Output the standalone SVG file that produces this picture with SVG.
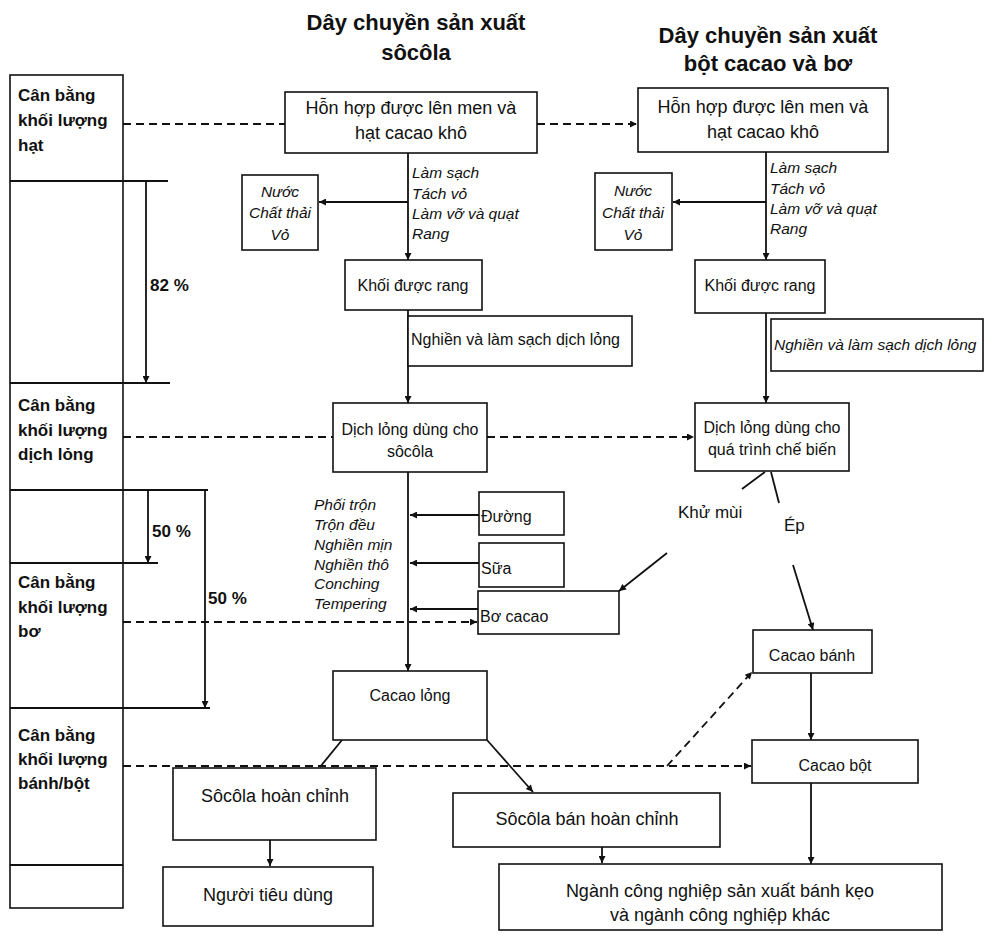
<svg xmlns="http://www.w3.org/2000/svg" width="991" height="936" viewBox="0 0 991 936">
<defs>
<marker id="ah" viewBox="0 0 10 10" refX="10" refY="5" markerWidth="9" markerHeight="7" markerUnits="userSpaceOnUse" orient="auto"><path d="M0,0 L10,5 L0,10 z" fill="#111"/></marker>
<style>
text{font-family:"Liberation Sans",Arial,sans-serif;fill:#111}
.t{font-size:22px;font-weight:bold;text-anchor:middle}
.lb{font-size:17px;font-weight:bold}
.n{font-size:16px;text-anchor:middle}
.nb{font-size:18px;text-anchor:middle}
.nl{font-size:16px}
.i{font-size:15.5px;font-style:italic}
.ic{font-size:15.5px;font-style:italic;text-anchor:middle}
.box{fill:#fff;stroke:#111;stroke-width:1.6}
.ln{fill:none;stroke:#111;stroke-width:1.8}
.ar{fill:none;stroke:#111;stroke-width:1.8;marker-end:url(#ah)}
.da{fill:none;stroke:#111;stroke-width:1.8;stroke-dasharray:8 5}
.dar{fill:none;stroke:#111;stroke-width:1.8;stroke-dasharray:8 5;marker-end:url(#ah)}
</style>
</defs>
<rect width="991" height="936" fill="#fff"/>

<g id="titles">
<text class="t" x="416" y="30">Dây chuyền sản xuất</text>
<text class="t" x="416" y="60">sôcôla</text>
<text class="t" x="768" y="43">Dây chuyền sản xuất</text>
<text class="t" x="768" y="71">bột cacao và bơ</text>
</g>

<g id="balance-column">
<rect x="10" y="75" width="113" height="833" fill="none" stroke="#111" stroke-width="1.6"/>
<line class="ln" x1="10" y1="181" x2="168" y2="181"/>
<line class="ln" x1="10" y1="383" x2="170" y2="383"/>
<line class="ln" x1="10" y1="490" x2="208" y2="490"/>
<line class="ln" x1="10" y1="563" x2="158" y2="563"/>
<line class="ln" x1="10" y1="708" x2="210" y2="708"/>
<line class="ln" x1="10" y1="865" x2="123" y2="865"/>
<line class="ar" x1="146" y1="181" x2="146" y2="383"/>
<line class="ar" x1="148" y1="490" x2="148" y2="563"/>
<line class="ar" x1="205" y1="490" x2="205" y2="708"/>
<text class="lb" x="150" y="291">82 %</text>
<text class="lb" x="152" y="537">50 %</text>
<text class="lb" x="208" y="604">50 %</text>
<text class="lb" x="18" y="101">Cân bằng</text>
<text class="lb" x="18" y="126">khối lượng</text>
<text class="lb" x="18" y="151">hạt</text>
<text class="lb" x="18" y="411">Cân bằng</text>
<text class="lb" x="18" y="436">khối lượng</text>
<text class="lb" x="18" y="460">dịch lỏng</text>
<text class="lb" x="18" y="588">Cân bằng</text>
<text class="lb" x="18" y="613">khối lượng</text>
<text class="lb" x="18" y="637">bơ</text>
<text class="lb" x="18" y="741">Cân bằng</text>
<text class="lb" x="18" y="765">khối lượng</text>
<text class="lb" x="18" y="789">bánh/bột</text>
</g>

<g id="connectors">
<line class="da" x1="123" y1="124" x2="285" y2="124"/>
<line class="dar" x1="537" y1="124" x2="637" y2="124"/>
<line class="da" x1="123" y1="437" x2="333" y2="437"/>
<line class="dar" x1="487" y1="437" x2="694" y2="437"/>
<line class="dar" x1="123" y1="622" x2="477" y2="622"/>
<line class="dar" x1="123" y1="766" x2="751" y2="766"/>
<line class="dar" x1="667" y1="766" x2="752" y2="672"/>
<line class="ar" x1="408" y1="153" x2="408" y2="260"/>
<line class="ar" x1="408" y1="202" x2="319" y2="202"/>
<line class="ar" x1="408" y1="310" x2="408" y2="403"/>
<line class="ar" x1="408" y1="472" x2="408" y2="671"/>
<line class="ar" x1="479" y1="515" x2="410" y2="515"/>
<line class="ar" x1="479" y1="563" x2="410" y2="563"/>
<line class="ar" x1="478" y1="609" x2="410" y2="609"/>
<line class="ln" x1="342" y1="740" x2="320" y2="767"/>
<line class="ar" x1="487" y1="740" x2="533" y2="792"/>
<line class="ar" x1="270" y1="840" x2="270" y2="866"/>
<line class="ar" x1="602" y1="847" x2="602" y2="863"/>
<line class="ar" x1="766" y1="152" x2="766" y2="260"/>
<line class="ar" x1="766" y1="202" x2="673" y2="202"/>
<line class="ar" x1="766" y1="313" x2="766" y2="403"/>
<line class="ln" x1="765" y1="472" x2="742" y2="489"/>
<line class="ar" x1="667" y1="553" x2="619" y2="591"/>
<line class="ln" x1="771" y1="472" x2="779" y2="503"/>
<line class="ar" x1="793" y1="565" x2="813" y2="630"/>
<line class="ar" x1="811" y1="673" x2="811" y2="740"/>
<line class="ar" x1="811" y1="783" x2="811" y2="864"/>
</g>

<g id="n-mix-left"><rect class="box" x="285" y="92" width="252" height="61"/>
<text class="nb" x="411" y="114">Hỗn hợp được lên men và</text>
<text class="nb" x="411" y="139">hạt cacao khô</text></g>
<g id="n-mix-right"><rect class="box" x="638" y="88" width="250" height="64"/>
<text class="nb" x="763" y="113">Hỗn hợp được lên men và</text>
<text class="nb" x="763" y="138">hạt cacao khô</text></g>

<g id="lbl-steps-left">
<text class="i" x="412" y="178">Làm sạch</text>
<text class="i" x="412" y="199">Tách vỏ</text>
<text class="i" x="412" y="219">Làm vỡ và quạt</text>
<text class="i" x="412" y="239">Rang</text></g>
<g id="lbl-steps-right">
<text class="i" x="770" y="173">Làm sạch</text>
<text class="i" x="770" y="194">Tách vỏ</text>
<text class="i" x="770" y="214">Làm vỡ và quạt</text>
<text class="i" x="770" y="234">Rang</text></g>

<g id="n-waste-left"><rect class="box" x="242" y="175" width="76" height="75"/>
<text class="ic" x="280" y="197">Nước</text>
<text class="ic" x="280" y="218">Chất thải</text>
<text class="ic" x="280" y="240">Vỏ</text></g>
<g id="n-waste-right"><rect class="box" x="595" y="173" width="77" height="77"/>
<text class="ic" x="633" y="196">Nước</text>
<text class="ic" x="633" y="218">Chất thải</text>
<text class="ic" x="633" y="240">Vỏ</text></g>

<g id="n-roast-left"><rect class="box" x="345" y="260" width="137" height="50"/>
<text class="n" x="413" y="291">Khối được rang</text></g>
<g id="n-roast-right"><rect class="box" x="695" y="260" width="130" height="53"/>
<text class="n" x="760" y="291">Khối được rang</text></g>

<g id="n-grind-left"><rect class="box" x="408" y="316" width="224" height="50"/>
<text class="nl" x="411" y="345">Nghiền và làm sạch dịch lỏng</text></g>
<g id="n-grind-right"><rect class="box" x="771" y="319" width="212" height="52"/>
<text class="i" x="774" y="350" style="font-size:15.5px">Nghiền và làm sạch dịch lỏng</text></g>

<g id="n-liquor-left"><rect class="box" x="333" y="403" width="154" height="69"/>
<text class="n" x="410" y="435">Dịch lỏng dùng cho</text>
<text class="n" x="410" y="457">sôcôla</text></g>
<g id="n-liquor-right"><rect class="box" x="695" y="403" width="154" height="68"/>
<text class="n" x="772" y="433">Dịch lỏng dùng cho</text>
<text class="n" x="772" y="455">quá trình chế biến</text></g>

<g id="lbl-process">
<text class="i" x="314" y="510">Phối trộn</text>
<text class="i" x="314" y="530">Trộn đều</text>
<text class="i" x="314" y="550">Nghiền mịn</text>
<text class="i" x="314" y="570">Nghiền thô</text>
<text class="i" x="314" y="589">Conching</text>
<text class="i" x="314" y="609">Tempering</text></g>

<g id="n-sugar"><rect class="box" x="479" y="492" width="85" height="43"/>
<text class="nl" x="481" y="522">Đường</text></g>
<g id="n-milk"><rect class="box" x="479" y="543" width="85" height="44"/>
<text class="nl" x="481" y="574">Sữa</text></g>
<g id="n-butter"><rect class="box" x="478" y="591" width="141" height="43"/>
<text class="nl" x="480" y="622">Bơ cacao</text></g>

<g id="lbl-deodor"><text x="678" y="518" style="font-size:17px">Khử mùi</text></g>
<g id="lbl-press"><text x="784" y="531" style="font-size:17px">Ép</text></g>

<g id="n-cake"><rect class="box" x="753" y="630" width="119" height="43"/>
<text class="n" x="812" y="661">Cacao bánh</text></g>
<g id="n-powder"><rect class="box" x="752" y="740" width="166" height="43"/>
<text class="n" x="835" y="771">Cacao bột</text></g>

<g id="n-cocoa-liquid"><rect class="box" x="333" y="671" width="154" height="69"/>
<text class="n" x="410" y="701">Cacao lỏng</text></g>

<g id="n-choc-finished"><rect class="box" x="173" y="768" width="203" height="72"/>
<text class="nb" x="275" y="802">Sôcôla hoàn chỉnh</text></g>
<g id="n-choc-semi"><rect class="box" x="453" y="793" width="267" height="54"/>
<text class="nb" x="587" y="825">Sôcôla bán hoàn chỉnh</text></g>
<g id="n-consumer"><rect class="box" x="163" y="867" width="210" height="59"/>
<text class="nb" x="268" y="901">Người tiêu dùng</text></g>
<g id="n-industry"><rect class="box" x="499" y="864" width="443" height="66"/>
<text class="nb" x="720" y="897">Ngành công nghiệp sản xuất bánh kẹo</text>
<text class="nb" x="720" y="921">và ngành công nghiệp khác</text></g>
</svg>
